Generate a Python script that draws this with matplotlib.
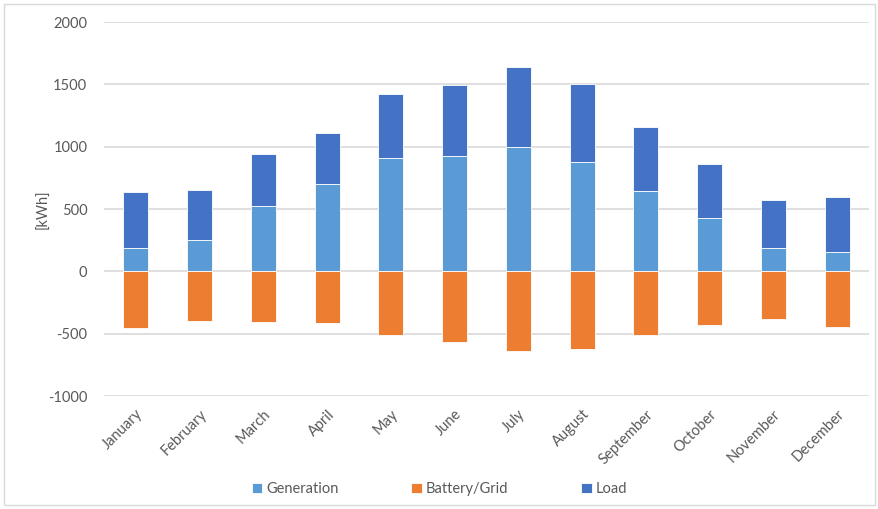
import matplotlib.pyplot as plt
import numpy as np
from matplotlib.patches import Rectangle

months = ["January", "February", "March", "April", "May", "June",
          "July", "August", "September", "October", "November", "December"]
generation = [190, 250, 527, 702, 912, 928, 1000, 875, 647, 430, 185, 158]
total_top = [640, 655, 940, 1112, 1423, 1498, 1642, 1504, 1160, 862, 576, 600]
battery_grid = [-452, -398, -406, -412, -508, -569, -636, -623, -508, -428, -385, -444]
load = [t - g for t, g in zip(total_top, generation)]

plt.rcParams["font.family"] = ["Lato", "DejaVu Sans"]
plt.rcParams["axes.unicode_minus"] = False

fig = plt.figure(figsize=(8.79, 5.09), dpi=100)
ax = fig.add_axes([104 / 879, 1 - 396 / 509, (869 - 104) / 879, (396 - 22) / 509])

x = np.arange(len(months))
w = 0.39
ax.bar(x, generation, w, color="#5B9BD5", edgecolor="white", linewidth=0.6,
       label="Generation", zorder=3)
ax.bar(x, battery_grid, w, color="#ED7D31", edgecolor="white", linewidth=0.6,
       label="Battery/Grid", zorder=3)
ax.bar(x, load, w, bottom=generation, color="#4472C4", edgecolor="white",
       linewidth=0.6, label="Load", zorder=3)

ax.set_xlim(-0.5, len(months) - 0.5)
ax.set_ylim(-1000, 2000)
ax.set_yticks(np.arange(-1000, 2001, 500))
ax.yaxis.grid(True, color="#D9D9D9", linewidth=1.2, zorder=0)
ax.set_axisbelow(True)
for s in ax.spines.values():
    s.set_visible(False)
ax.tick_params(length=0, colors="#595959", labelsize=10.5)
ax.tick_params(axis="y", pad=12)
ax.set_xticks(x)
ax.set_xticklabels(months, rotation=45, ha="right", rotation_mode="anchor",
                   color="#595959", fontsize=10.5)
ax.tick_params(axis="x", pad=8)
ax.set_ylabel("[kWh]", color="#595959", fontsize=10.5, labelpad=-2)

fig.legend(loc="lower center", bbox_to_anchor=(0.5, 0.0), ncol=3, frameon=False,
           handlelength=0.7, handleheight=0.7, handletextpad=0.3, columnspacing=5.0,
           labelcolor="#595959", fontsize=10.5)

fig.patches.append(Rectangle((4 / 879, 4 / 509), 871 / 879, 501 / 509,
                             transform=fig.transFigure, fill=False,
                             edgecolor="#D9D9D9", linewidth=1))

fig.savefig("out.png", dpi=100)
